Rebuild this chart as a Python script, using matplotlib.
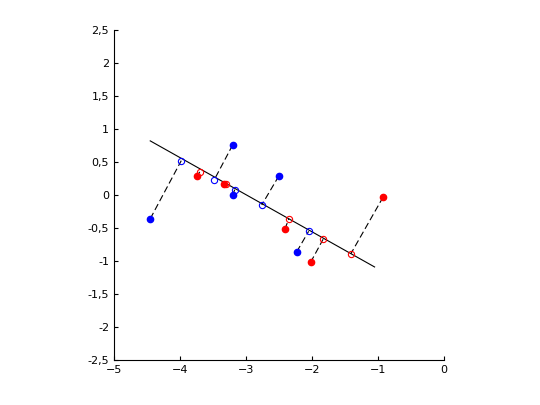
import matplotlib
matplotlib.use("Agg")
import matplotlib.pyplot as plt
from matplotlib.ticker import FuncFormatter

# fitted line ends
line_x = [-4.45, -1.05]
line_y = [0.82, -1.09]

# data points and their projections on the line
blue_x = [-4.45, -3.20, -3.20, -2.50, -2.23]
blue_y = [-0.36, 0.76, 0.00, 0.29, -0.86]
blue_px = [-3.98, -3.48, -3.17, -2.76, -2.05]
blue_py = [0.52, 0.23, 0.08, -0.15, -0.55]

red_x = [-3.74, -3.33, -2.41, -2.02, -0.92]
red_y = [0.29, 0.17, -0.52, -1.02, -0.03]
red_px = [-3.70, -3.30, -2.35, -1.83, -1.41]
red_py = [0.35, 0.16, -0.36, -0.67, -0.89]

fig = plt.figure(figsize=(5.4, 4.05), dpi=100)
ax = fig.add_axes([0.211, 0.111, 0.611, 0.815])

ax.plot(line_x, line_y, color="black", linewidth=0.8)
for xs, ys, pxs, pys, c in [(blue_x, blue_y, blue_px, blue_py, "#0000ff"),
                            (red_x, red_y, red_px, red_py, "#ff0000")]:
    for x, y, px, py in zip(xs, ys, pxs, pys):
        ax.plot([x, px], [y, py], color="black", linestyle=(0, (6, 3)), linewidth=0.8)
    ax.plot(xs, ys, "o", color=c, markersize=4.5, zorder=3)
    ax.plot(pxs, pys, "o", markerfacecolor="none", markeredgecolor=c,
            markersize=4.5, markeredgewidth=0.8, zorder=3)

ax.set_xlim(-5, 0)
ax.set_ylim(-2.5, 2.5)
ax.set_xticks(range(-5, 1))
ax.set_yticks([i * 0.5 for i in range(-5, 6)])
ax.yaxis.set_major_formatter(FuncFormatter(lambda v, p: f"{v:g}".replace(".", ",")))
ax.spines["top"].set_visible(False)
ax.spines["right"].set_visible(False)
ax.tick_params(direction="in", labelsize=8, length=3)

fig.savefig("out.png", dpi=100)
